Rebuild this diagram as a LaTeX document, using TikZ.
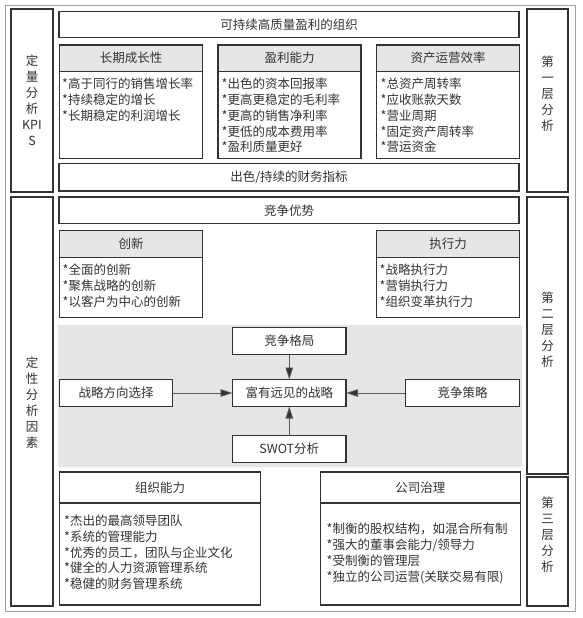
\documentclass[tikz,border=0pt]{standalone}
\usepackage{fontspec}
\setmainfont{Noto Sans CJK SC}
\usepackage{xcolor}
\usetikzlibrary{positioning,arrows.meta}
\definecolor{linha}{HTML}{333333}
\definecolor{fundo}{HTML}{E6E6E6}
\definecolor{moldura}{HTML}{A0A0A0}

\begin{document}
\begin{tikzpicture}[x=1pt,y=-1pt,
    caixa/.style={draw=linha, line width=1.3pt, fill=white, inner sep=0pt, outer sep=0pt,
      text=linha, font=\fontsize{12.5}{15.8}\selectfont},
    titulo/.style={caixa, fill=fundo},
    lista/.style={inner sep=0pt, anchor=north west, align=left, text=linha,
      font=\fontsize{12.5}{15.8}\selectfont},
    coluna/.style={inner sep=0pt, align=center, text=linha,
      font=\fontsize{12.5}{16}\selectfont},
    seta/.style={draw=linha!80, line width=0.8pt, -{Triangle[length=12pt,width=7.5pt,fill=linha]}}]
  \useasboundingbox (0,0) rectangle (582,618);

  % Moldura externa
  \draw[moldura, line width=0.8pt] (5,5) rectangle (575,611);

  % Colunas laterais
  \node[caixa, minimum width=42pt, minimum height=183pt] (quant) at (32,100.5) {};
  \node[coluna] at (32,100.5) {定\\量\\分\\析\\KPI\\S};
  \node[caixa, minimum width=42pt, minimum height=409pt] (qual) at (32,401.5) {};
  \node[coluna] at (32,402.5) {定\\性\\分\\析\\因\\素};
  \node[caixa, minimum width=41pt, minimum height=183pt] (nivel1) at (547.5,100.5) {};
  \node[coluna] at (547.5,93.5) {第\\一\\层\\分\\析};
  \node[caixa, minimum width=41pt, minimum height=277pt] (nivel2) at (547.5,335.5) {};
  \node[coluna] at (547.5,330) {第\\二\\层\\分\\析};
  \node[caixa, minimum width=41pt, minimum height=129pt] (nivel3) at (547.5,541.5) {};
  \node[coluna] at (547.5,534.5) {第\\三\\层\\分\\析};

  % Primeiro nivel
  \node[caixa, minimum width=460pt, minimum height=26pt] (organizacao) at (289,24.5) {可持续高质量盈利的组织};
  \node[titulo, minimum width=143pt, minimum height=26.5pt, anchor=north west] (crescimento) at (59.5,45) {长期成长性};
  \node[caixa, minimum width=143pt, minimum height=87pt, below=0pt of crescimento] (crescimentoC) {};
  \node[lista] at (62,78) {*高于同行的销售增长率\\*持续稳定的增长\\*长期稳定的利润增长};
  \node[titulo, minimum width=143pt, minimum height=26.5pt, anchor=north west] (lucro) at (218,45) {盈利能力};
  \node[caixa, minimum width=143pt, minimum height=87pt, below=0pt of lucro] (lucroC) {};
  \node[lista] at (221.5,78) {*出色的资本回报率\\*更高更稳定的毛利率\\*更高的销售净利率\\*更低的成本费用率\\*盈利质量更好};
  \node[titulo, minimum width=143pt, minimum height=26.5pt, anchor=north west] (ativos) at (376.5,45) {资产运营效率};
  \node[caixa, minimum width=143pt, minimum height=87pt, below=0pt of ativos] (ativosC) {};
  \node[lista] at (380.5,78) {*总资产周转率\\*应收账款天数\\*营业周期\\*固定资产周转率\\*营运资金};
  \node[caixa, minimum width=460pt, minimum height=27.5pt] (financas) at (289,177.2) {出色/持续的财务指标};

  % Segundo nivel
  \node[caixa, minimum width=460pt, minimum height=26.7pt] (vantagem) at (289,210.4) {竞争优势};
  \node[titulo, minimum width=143pt, minimum height=27.2pt, anchor=north west] (inovacao) at (59.5,230.3) {创新};
  \node[caixa, minimum width=143pt, minimum height=60.2pt, below=0pt of inovacao] (inovacaoC) {};
  \node[lista] at (62.5,263.7) {*全面的创新\\*聚焦战略的创新\\*以客户为中心的创新};
  \node[titulo, minimum width=143pt, minimum height=27.2pt, anchor=north west] (execucao) at (376.5,230.3) {执行力};
  \node[caixa, minimum width=143pt, minimum height=60.2pt, below=0pt of execucao] (execucaoC) {};
  \node[lista] at (379.5,263.7) {*战略执行力\\*营销执行力\\*组织变革执行力};

  % Fundo cinza da estrategia
  \fill[fundo] (57.5,325) rectangle (522,467);
  \node[caixa, minimum width=113.5pt, minimum height=27pt] (visao) at (289.3,393) {富有远见的战略};
  \node[caixa, minimum width=113.5pt, minimum height=27pt] (cenario) at (289.3,341) {竞争格局};
  \node[caixa, minimum width=113.5pt, minimum height=27pt] (swot) at (289.3,449) {SWOT分析};
  \node[caixa, minimum width=113.5pt, minimum height=27pt] (direcao) at (116,393) {战略方向选择};
  \node[caixa, minimum width=114.5pt, minimum height=27pt] (estrategia) at (462.5,393) {竞争策略};
  \draw[seta] (direcao) -- (visao);
  \draw[seta] (estrategia) -- (visao);
  \draw[seta] (cenario) -- (visao);
  \draw[seta] (swot) -- (visao);

  % Terceiro nivel
  \node[caixa, minimum width=201pt, minimum height=31pt, anchor=north west] (capacidade) at (59.5,472) {组织能力};
  \node[caixa, minimum width=201pt, minimum height=102pt, below=0pt of capacidade] (capacidadeC) {};
  \node[lista] at (64,514.7) {*杰出的最高领导团队\\*系统的管理能力\\*优秀的员工，团队与企业文化\\*健全的人力资源管理系统\\*稳健的财务管理系统};
  \node[caixa, minimum width=200pt, minimum height=31pt, anchor=north west] (governanca) at (320.3,472) {公司治理};
  \node[caixa, minimum width=200pt, minimum height=102pt, below=0pt of governanca] (governancaC) {};
  \node[lista] at (326.5,523) {*制衡的股权结构，如混合所有制\\*强大的董事会能力/领导力\\*受制衡的管理层\\*独立的公司运营(关联交易有限)};
\end{tikzpicture}
\end{document}
